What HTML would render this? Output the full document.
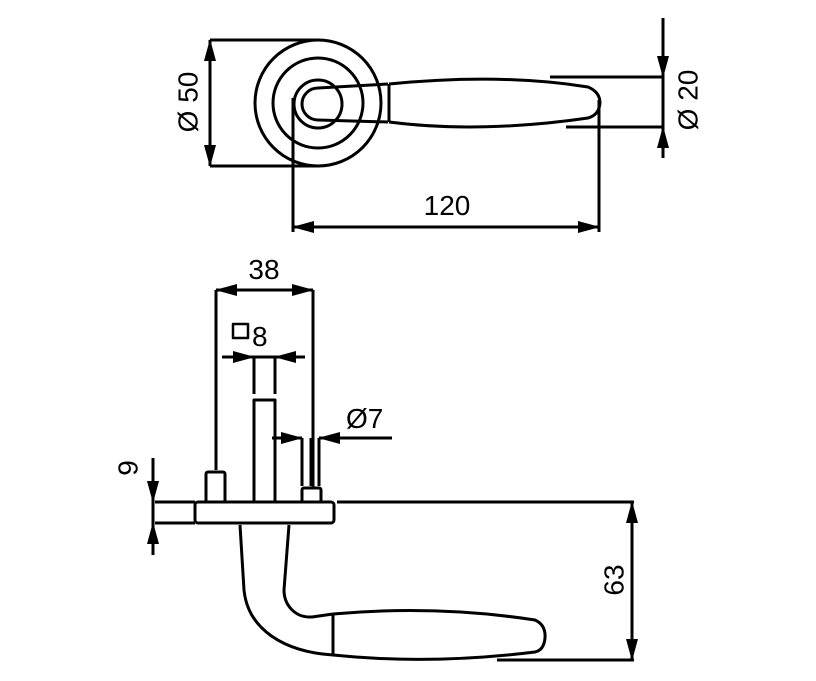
<!DOCTYPE html>
<html><head><style>html,body{margin:0;padding:0;background:#fff}svg{display:block}</style></head>
<body>
<svg width="816" height="681" viewBox="0 0 816 681" xmlns="http://www.w3.org/2000/svg" font-family="Liberation Sans, sans-serif">
<defs>
<marker id="a" viewBox="0 0 22 12" refX="21" refY="6" markerWidth="22" markerHeight="12" markerUnits="userSpaceOnUse" orient="auto" preserveAspectRatio="none"><path d="M0,0 L22,6 L0,12 z" fill="#000"/></marker>
</defs>
<g fill="none" stroke="#000" stroke-width="3" stroke-linejoin="round" stroke-linecap="butt">
<!-- top view -->
<circle cx="318" cy="103" r="63"/>
<circle cx="318" cy="103" r="45"/>
<circle cx="318" cy="104" r="24"/>
<path d="M388,84 L318,88 A16,16 0 0 0 318,120 L388,122"/>
<line x1="389" y1="84" x2="389" y2="122"/>
<path d="M389,84 C450,78 520,76 588,87 Q600,92 600,103 Q599,115 588,118 C520,128 450,130 389,122"/>
<!-- Ø50 -->
<line x1="210" y1="40" x2="318" y2="40"/>
<line x1="210" y1="166" x2="318" y2="166"/>
<line x1="210" y1="100" x2="210" y2="40" marker-end="url(#a)"/>
<line x1="210" y1="100" x2="210" y2="166" marker-end="url(#a)"/>
<!-- Ø20 -->
<line x1="550" y1="77" x2="663" y2="77"/>
<line x1="566" y1="127" x2="663" y2="127"/>
<line x1="663" y1="18" x2="663" y2="77" marker-end="url(#a)"/>
<line x1="663" y1="158" x2="663" y2="127" marker-end="url(#a)"/>
<line x1="663" y1="77" x2="663" y2="127"/>
<!-- 120 -->
<line x1="293" y1="98" x2="293" y2="232"/>
<line x1="599" y1="100" x2="599" y2="232"/>
<line x1="446" y1="227" x2="293" y2="227" marker-end="url(#a)"/>
<line x1="446" y1="227" x2="599" y2="227" marker-end="url(#a)"/>

<!-- side view -->
<rect x="195" y="502" width="139" height="21" rx="3"/>
<line x1="155" y1="502" x2="195" y2="502"/>
<line x1="155" y1="523" x2="195" y2="523"/>
<line x1="337" y1="502" x2="634" y2="502"/>
<rect x="206" y="472" width="19" height="30" rx="2"/>
<line x1="216" y1="290" x2="216" y2="470"/>
<line x1="313" y1="290" x2="313" y2="488"/>
<path d="M254,502 L254,400 L275,400 L275,502"/>
<line x1="254" y1="357" x2="254" y2="394"/>
<line x1="275" y1="357" x2="275" y2="394"/>
<rect x="302" y="488" width="19" height="14" rx="2"/>
<line x1="302" y1="438" x2="302" y2="486"/>
<line x1="311" y1="438" x2="311" y2="486"/>
<line x1="319" y1="438" x2="319" y2="486"/>
<!-- 38 -->
<line x1="264" y1="290" x2="216" y2="290" marker-end="url(#a)"/>
<line x1="264" y1="290" x2="313" y2="290" marker-end="url(#a)"/>
<rect x="233" y="324" width="15" height="14" stroke-width="2.5"/>
<!-- □8 -->
<line x1="222" y1="357" x2="254" y2="357" marker-end="url(#a)"/>
<line x1="305" y1="357" x2="275" y2="357" marker-end="url(#a)"/>
<line x1="254" y1="357" x2="275" y2="357"/>
<!-- Ø7 -->
<line x1="272" y1="438" x2="302" y2="438" marker-end="url(#a)"/>
<line x1="392" y1="438" x2="319" y2="438" marker-end="url(#a)"/>
<!-- 9 -->
<line x1="153" y1="458" x2="153" y2="502" marker-end="url(#a)"/>
<line x1="153" y1="555" x2="153" y2="523" marker-end="url(#a)"/>
<line x1="153" y1="502" x2="153" y2="523"/>
<!-- handle -->
<path d="M240,525 L244,590 C248,630 285,652 333,655"/>
<path d="M289,525 L284,590 C284,605 295,618 312,617 L333,614"/>
<line x1="333" y1="614" x2="333" y2="655"/>
<path d="M333,614 C400,608 470,610 535,620 Q546,625 545,638 Q544,650 535,652 C470,660 400,662 333,655"/>
<line x1="497" y1="660" x2="634" y2="660"/>
<line x1="632" y1="580" x2="632" y2="502" marker-end="url(#a)"/>
<line x1="632" y1="580" x2="632" y2="660" marker-end="url(#a)"/>
</g>
<g font-size="28" fill="#000">
<text x="188" y="102" text-anchor="middle" transform="rotate(-90 188 102)" dominant-baseline="central">Ø 50</text>
<text x="688" y="100" text-anchor="middle" transform="rotate(-90 688 100)" dominant-baseline="central">Ø 20</text>
<text x="447" y="215" text-anchor="middle">120</text>
<text x="264" y="279" text-anchor="middle">38</text>
<text x="252" y="346">8</text>
<text x="346" y="428">Ø7</text>
<text x="128" y="468" text-anchor="middle" transform="rotate(-90 128 468)" dominant-baseline="central">9</text>
<text x="614" y="580" text-anchor="middle" transform="rotate(-90 614 580)" dominant-baseline="central">63</text>
</g>
</svg>
</body></html>
